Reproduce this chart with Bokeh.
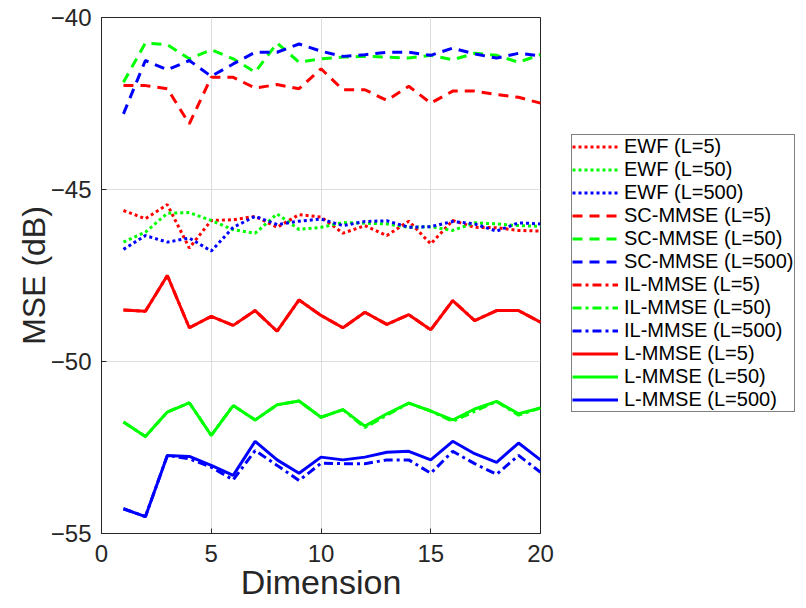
from bokeh.plotting import figure
from bokeh.models import Legend, LegendItem, FixedTicker, Range1d
from bokeh.embed import file_html
from bokeh.resources import INLINE

dimension = list(range(1, 21))

ewf_5 = [-45.61, -45.85, -45.44, -46.70, -45.90, -45.88, -45.78, -46.10, -45.73, -45.80,
         -46.27, -46.05, -46.34, -45.92, -46.58, -45.90, -46.10, -46.11, -46.19, -46.21]
ewf_50 = [-46.53, -46.24, -45.69, -45.67, -45.90, -46.17, -46.27, -45.71, -46.16, -46.10,
          -45.96, -45.98, -46.00, -46.10, -46.08, -46.19, -45.97, -46.00, -46.05, -46.07]
ewf_500 = [-46.74, -46.34, -46.53, -46.41, -46.79, -46.10, -45.78, -46.02, -45.92, -45.86,
           -46.05, -45.93, -45.91, -46.10, -46.08, -45.93, -46.00, -46.21, -45.97, -46.00]

sc_5 = [-41.98, -41.98, -42.07, -43.09, -41.74, -41.74, -42.05, -41.95, -42.07, -41.49,
        -42.10, -42.10, -42.41, -42.00, -42.49, -42.14, -42.14, -42.24, -42.32, -42.49]
sc_50 = [-41.88, -40.74, -40.79, -41.20, -40.94, -41.20, -41.59, -40.74, -41.30, -41.20,
         -41.15, -41.13, -41.15, -41.18, -41.10, -41.23, -41.04, -41.10, -41.30, -41.08]
sc_500 = [-42.80, -41.25, -41.52, -41.25, -41.71, -41.35, -41.01, -41.01, -40.77, -40.98,
          -41.13, -41.08, -41.01, -41.01, -41.10, -40.89, -41.06, -41.18, -41.04, -41.12]

il_5 = [-48.50, -48.54, -47.50, -49.02, -48.69, -48.95, -48.52, -49.12, -48.21, -48.66,
        -49.02, -48.57, -48.92, -48.64, -49.08, -48.23, -48.81, -48.52, -48.52, -48.86]
il_50 = [-51.76, -52.18, -51.47, -51.20, -52.15, -51.28, -51.70, -51.26, -51.15, -51.62,
         -51.40, -51.92, -51.56, -51.21, -51.44, -51.74, -51.45, -51.16, -51.56, -51.35]
il_500 = [-54.28, -54.51, -52.73, -52.83, -53.07, -53.44, -52.59, -53.02, -53.46, -52.96,
          -52.97, -52.97, -52.86, -52.86, -53.25, -52.61, -52.97, -53.28, -52.73, -53.22]

l_5 = [-48.50, -48.54, -47.50, -49.02, -48.69, -48.95, -48.52, -49.12, -48.21, -48.66,
       -49.02, -48.57, -48.92, -48.64, -49.08, -48.23, -48.81, -48.52, -48.52, -48.86]
l_50 = [-51.76, -52.18, -51.47, -51.20, -52.15, -51.28, -51.70, -51.26, -51.15, -51.62,
        -51.40, -51.88, -51.52, -51.21, -51.44, -51.70, -51.38, -51.16, -51.52, -51.35]
l_500 = [-54.28, -54.51, -52.73, -52.76, -53.02, -53.31, -52.32, -52.86, -53.25, -52.78,
         -52.86, -52.78, -52.64, -52.61, -52.86, -52.32, -52.68, -52.93, -52.37, -52.86]

x_ticks = [0, 5, 10, 15, 20]
y_ticks = [-55, -50, -45, -40]

FONT = "Liberation Sans"
TXT = "#262626"

p = figure(frame_width=439, frame_height=516, output_backend="svg", toolbar_location=None,
           x_range=Range1d(0, 20), y_range=Range1d(-55, -40),
           min_border_left=0, min_border_right=0, min_border_top=17, min_border_bottom=0)
p.margin = (0, 0, 0, 12)
p.outline_line_color = TXT
p.outline_line_width = 1
p.background_fill_color = "white"

for ax in (p.xaxis[0], p.yaxis[0]):
    ax.major_label_text_font = FONT
    ax.major_label_text_font_size = "24px"
    ax.major_label_text_color = TXT
    ax.axis_label_text_font = FONT
    ax.axis_label_text_font_style = "normal"
    ax.axis_label_text_color = TXT
    ax.major_tick_in = 5
    ax.major_tick_out = 0
    ax.minor_tick_line_color = None
    ax.axis_line_color = TXT
    ax.major_tick_line_color = TXT

p.xaxis[0].ticker = FixedTicker(ticks=x_ticks)
p.yaxis[0].ticker = FixedTicker(ticks=y_ticks)
p.xaxis[0].axis_label = "Dimension"
p.yaxis[0].axis_label = "MSE (dB)"
p.xaxis[0].axis_label_text_font_size = "34px"
p.yaxis[0].axis_label_text_font_size = "32px"
p.xaxis[0].major_label_standoff = 11
p.yaxis[0].major_label_standoff = 10
p.xaxis[0].axis_label_standoff = -2
p.yaxis[0].axis_label_standoff = -4

p.xgrid.grid_line_color = "#dedede"
p.ygrid.grid_line_color = "#dedede"
p.xgrid.ticker = FixedTicker(ticks=x_ticks)
p.ygrid.ticker = FixedTicker(ticks=y_ticks)

RED, GREEN, BLUE = "#ff0000", "#00ff00", "#0000ff"
series = [
    ("EWF (L=5)", ewf_5, RED, "3 3"),
    ("EWF (L=50)", ewf_50, GREEN, "3 3"),
    ("EWF (L=500)", ewf_500, BLUE, "3 3"),
    ("SC-MMSE (L=5)", sc_5, RED, "10 7"),
    ("SC-MMSE (L=50)", sc_50, GREEN, "10 7"),
    ("SC-MMSE (L=500)", sc_500, BLUE, "10 7"),
    ("IL-MMSE (L=5)", il_5, RED, "9 4 3 4"),
    ("IL-MMSE (L=50)", il_50, GREEN, "9 4 3 4"),
    ("IL-MMSE (L=500)", il_500, BLUE, "9 4 3 4"),
    ("L-MMSE (L=5)", l_5, RED, "solid"),
    ("L-MMSE (L=50)", l_50, GREEN, "solid"),
    ("L-MMSE (L=500)", l_500, BLUE, "solid"),
]

items = []
for name, ys, col, dash in series:
    r = p.line(dimension, ys, line_color=col, line_width=3, line_dash=dash)
    items.append(LegendItem(label=name, renderers=[r]))

legend = Legend(items=items, location=(31, 121), orientation="vertical",
                label_text_font=FONT, label_text_font_size="20px", label_text_color="black",
                glyph_width=46, glyph_height=23, label_height=23, label_standoff=6,
                spacing=0, padding=0, margin=0,
                border_line_color="black", border_line_width=1,
                background_fill_color="white", background_fill_alpha=1)
p.add_layout(legend, "right")

open("out.html", "w").write(file_html(p, INLINE))
